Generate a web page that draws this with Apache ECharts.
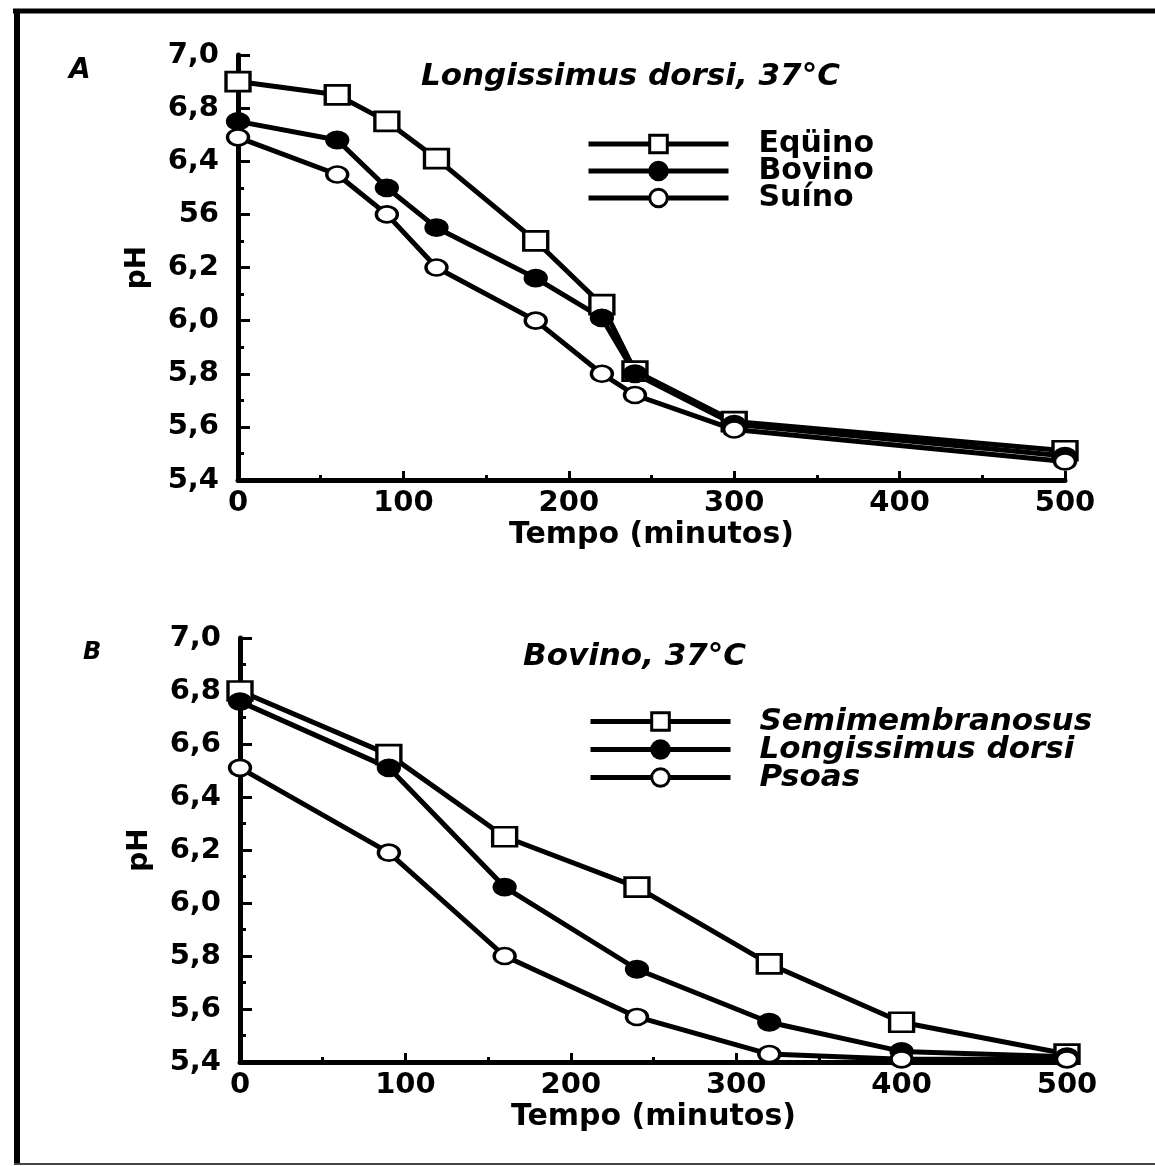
<!DOCTYPE html>
<html>
<head>
<meta charset="utf-8">
<script src="https://cdn.jsdelivr.net/npm/echarts@6/dist/echarts.min.js"></script>
<style>
  html, body { margin: 0; padding: 0; background: #fff; }
  #chart { width: 1155px; height: 1166px; }
</style>
</head>
<body>
<div id="chart"></div>
<script>
// painel A - Longissimus dorsi, 37°C
var tempoA = [0, 60, 90, 120, 180, 220, 240, 300, 500];
var equino = [6.90, 6.85, 6.75, 6.61, 6.30, 6.06, 5.81, 5.62, 5.51];
var bovinoA = [6.75, 6.68, 6.50, 6.35, 6.16, 6.01, 5.80, 5.61, 5.49];
var suino = [6.69, 6.55, 6.40, 6.20, 6.00, 5.80, 5.72, 5.59, 5.47];
var yLabelsA = ['5,4', '5,6', '5,8', '6,0', '6,2', '56', '6,4', '6,8', '7,0'];

// painel B - Bovino, 37°C
var tempoB = [0, 90, 160, 240, 320, 400, 500];
var semimembranosus = [6.80, 6.56, 6.25, 6.06, 5.77, 5.55, 5.43];
var longissimus = [6.76, 6.51, 6.06, 5.75, 5.55, 5.44, 5.42];
var psoas = [6.51, 6.19, 5.80, 5.57, 5.43, 5.41, 5.41];
var yLabelsB = ['5,4', '5,6', '5,8', '6,0', '6,2', '6,4', '6,6', '6,8', '7,0'];

var FONT = 'DejaVu Sans';

function pares(xs, ys) {
  var out = [];
  for (var i = 0; i < xs.length; i++) out.push([xs[i], ys[i]]);
  return out;
}

function eixoX(idx) {
  return {
    type: 'value', gridIndex: idx, min: 0, max: 500, interval: 100,
    name: 'Tempo (minutos)', nameLocation: 'middle', nameGap: 40,
    nameTextStyle: { color: '#000', fontFamily: FONT, fontWeight: 'bold', fontSize: 30 },
    axisLine: { lineStyle: { color: '#000', width: 5 } },
    axisTick: { inside: true, length: 9, lineStyle: { color: '#000', width: 3 } },
    minorTick: { show: true, splitNumber: 2, length: 5, lineStyle: { color: '#000', width: 3 } },
    axisLabel: { color: '#000', fontFamily: FONT, fontWeight: 'bold', fontSize: 29, margin: 9 },
    splitLine: { show: false }
  };
}

function eixoY(idx, labels) {
  return {
    type: 'value', gridIndex: idx, min: 5.4, max: 7.0, interval: 0.2,
    name: 'pH', nameLocation: 'middle', nameGap: 86,
    nameTextStyle: { color: '#000', fontFamily: FONT, fontWeight: 'bold', fontSize: 28 },
    axisLine: { lineStyle: { color: '#000', width: 5 } },
    axisTick: { inside: true, length: 12, lineStyle: { color: '#000', width: 3 } },
    minorTick: { show: true, splitNumber: 2, length: 6, lineStyle: { color: '#000', width: 3 } },
    axisLabel: {
      color: '#000', fontFamily: FONT, fontWeight: 'bold', fontSize: 29, margin: 19,
      formatter: function (v) { return labels[Math.round((v - 5.4) / 0.2)]; }
    },
    splitLine: { show: false }
  };
}

function serie(nome, idx, data, tipo) {
  var s = {
    name: nome, type: 'line', xAxisIndex: idx, yAxisIndex: idx,
    data: data,
    lineStyle: { color: '#000', width: 5 },
    itemStyle: { color: '#fff', borderColor: '#000', borderWidth: 3 },
    emphasis: { disabled: true }
  };
  if (tipo == 'quadrado') {
    s.symbol = 'rect'; s.symbolSize = [24, 19];
  } else if (tipo == 'cheio') {
    s.symbol = 'circle'; s.symbolSize = [22, 17];
    s.itemStyle = { color: '#000', borderColor: '#000', borderWidth: 2 };
  } else {
    s.symbol = 'circle'; s.symbolSize = [21, 16];
  }
  return s;
}

var legendaBase = {
  orient: 'vertical', padding: 0,
  itemWidth: 140, itemHeight: 22, itemGap: -3,
  lineStyle: { width: 5 },
  itemStyle: { borderWidth: 3 }
};

var chart = echarts.init(document.getElementById('chart'));
chart.setOption({
  backgroundColor: '#fff',
  animation: false,
  title: [
    { text: 'A', left: 64, top: 52, textStyle: { fontFamily: FONT, fontWeight: 'bold', fontStyle: 'italic', fontSize: 28, color: '#000' } },
    { text: 'Longissimus dorsi, 37°C', left: 416, top: 56, textStyle: { fontFamily: FONT, fontWeight: 'bold', fontStyle: 'italic', fontSize: 31, color: '#000' } },
    { text: 'B', left: 78, top: 636, textStyle: { fontFamily: FONT, fontWeight: 'bold', fontStyle: 'italic', fontSize: 24, color: '#000' } },
    { text: 'Bovino, 37°C', left: 518, top: 636, textStyle: { fontFamily: FONT, fontWeight: 'bold', fontStyle: 'italic', fontSize: 31, color: '#000' } }
  ],
  legend: [
    echarts.util.merge({
      data: ['Eqüino', 'Bovino', 'Suíno'], left: 586, top: 129,
      textStyle: { fontFamily: FONT, fontWeight: 'bold', fontSize: 30, color: '#000', padding: [0, 0, 0, 25] }
    }, legendaBase),
    echarts.util.merge({
      data: ['Semimembranosus', 'Longissimus dorsi', 'Psoas'], left: 588, top: 706,
      textStyle: { fontFamily: FONT, fontWeight: 'bold', fontStyle: 'italic', fontSize: 31, color: '#000', padding: [0, 0, 0, 24] }
    }, legendaBase)
  ],
  grid: [
    { left: 238, right: 90, top: 55, bottom: 686 },
    { left: 240, right: 88, top: 638, bottom: 104 }
  ],
  xAxis: [eixoX(0), eixoX(1)],
  yAxis: [eixoY(0, yLabelsA), eixoY(1, yLabelsB)],
  series: [
    serie('Eqüino', 0, pares(tempoA, equino), 'quadrado'),
    serie('Bovino', 0, pares(tempoA, bovinoA), 'cheio'),
    serie('Suíno', 0, pares(tempoA, suino), 'aberto'),
    serie('Semimembranosus', 1, pares(tempoB, semimembranosus), 'quadrado'),
    serie('Longissimus dorsi', 1, pares(tempoB, longissimus), 'cheio'),
    serie('Psoas', 1, pares(tempoB, psoas), 'aberto')
  ],
  graphic: [
    { type: 'line', silent: true, shape: { x1: 13, y1: 11, x2: 1155, y2: 11 }, style: { stroke: '#000', lineWidth: 5 } },
    { type: 'line', silent: true, shape: { x1: 17, y1: 9, x2: 17, y2: 1164 }, style: { stroke: '#000', lineWidth: 6 } },
    { type: 'line', silent: true, shape: { x1: 14, y1: 1164, x2: 1155, y2: 1164 }, style: { stroke: '#444', lineWidth: 2 } }
  ]
});
</script>
</body>
</html>
